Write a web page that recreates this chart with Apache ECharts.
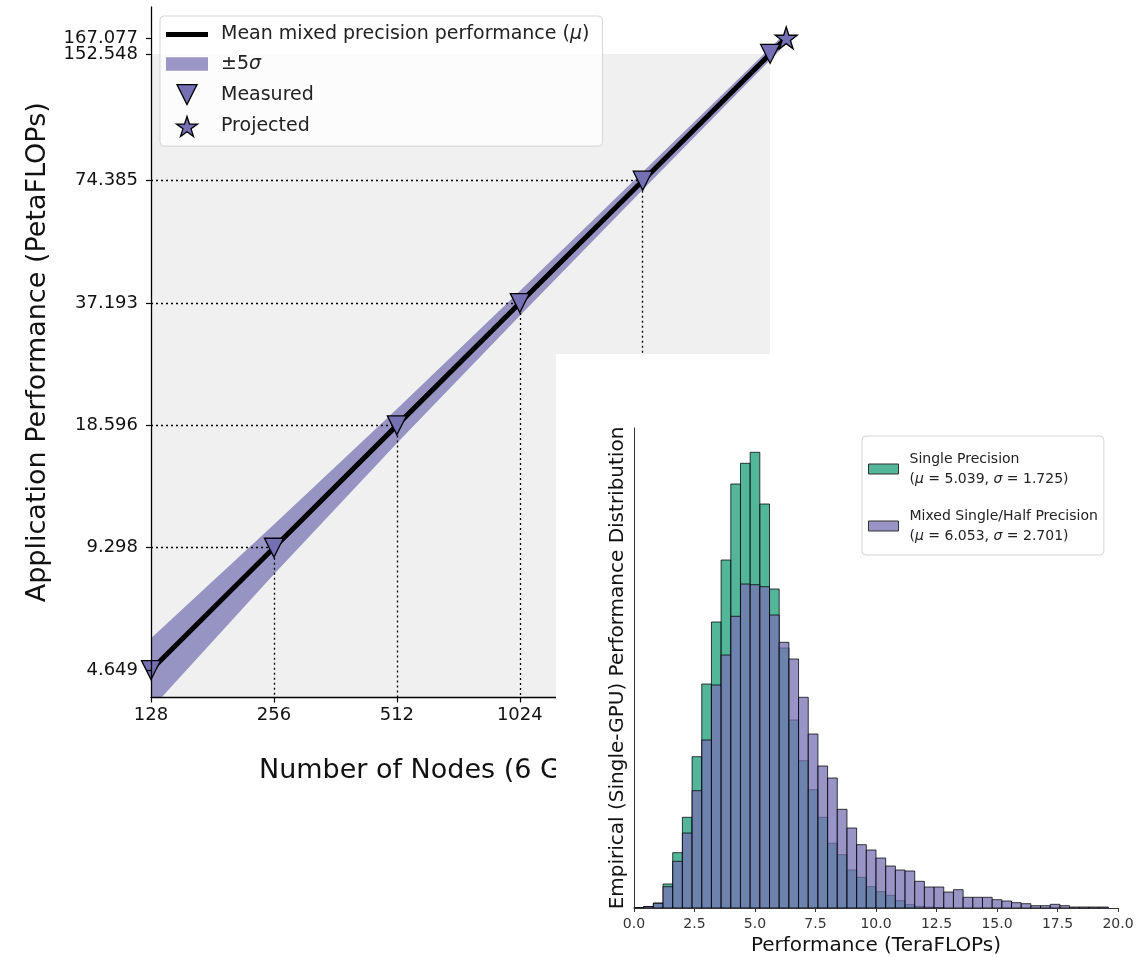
<!DOCTYPE html>
<html>
<head>
<meta charset="utf-8">
<script src="https://cdn.jsdelivr.net/npm/echarts@6/dist/echarts.min.js"></script>
<style>
  html, body { margin: 0; padding: 0; background: #fff; }
  #chart { width: 1143px; height: 957px; }
</style>
</head>
<body>
<div id="chart"></div>
<script>
// ---- main plot: application performance vs node count (log2 / log2) ----
const nodeCounts = [128, 256, 512, 1024, 2048, 4200, 4600];
const meanPerf = [4.649, 9.298, 18.596, 37.193, 74.385, 152.548, 167.077];
const bandUpper = [5.57, 10.6, 20.4, 39.8, 78.1, 157.8, 172.6];
const bandLower = [3.73, 8.0, 16.8, 34.6, 70.7, 147.3, 161.6];
const measuredNodes = [128, 256, 512, 1024, 2048, 4200];
const measuredPerf = [4.649, 9.298, 18.596, 37.193, 74.385, 152.548];
const projectedNodes = [4600];
const projectedPerf = [167.077];
const guideNodes = [256, 512, 1024, 2048];
const guidePerf = [9.298, 18.596, 37.193, 74.385];
const xTicks = [128, 256, 512, 1024, 2048, 4096];
const yTicks = [4.649, 9.298, 18.596, 37.193, 74.385, 167.077];
const yTicksExtra = [152.548]; // sits too close to 167.077, so it gets its own axis
const xRange = [128, 5200];
const yRange = [3.98, 199];
const shadedCorner = [4200, 152.548];

// ---- inset: per-GPU performance histogram (bin width 0.4 TF) ----
const binEdges = [0, 0.4, 0.8, 1.2, 1.6, 2, 2.4, 2.8, 3.2, 3.6, 4, 4.4, 4.8, 5.2, 5.6, 6, 6.4, 6.8, 7.2, 7.6,
  8, 8.4, 8.8, 9.2, 9.6, 10, 10.4, 10.8, 11.2, 11.6, 12, 12.4, 12.8, 13.2, 13.6, 14, 14.4, 14.8, 15.2, 15.6,
  16, 16.4, 16.8, 17.2, 17.6, 18, 18.4, 18.8, 19.2, 19.6, 20];
const singleHeights = [0.3, 1.5, 5, 24, 55.3, 90.7, 151.3, 224, 286, 348, 424, 444.7, 455.7, 404, 319, 260,
  188, 147.3, 118.3, 90.7, 64.7, 53.3, 38, 30.7, 21.3, 16.3, 12.7, 7.3, 3.3, 1.7, 1, 0.5, 0, 0, 0, 0, 0, 0, 0, 0,
  0, 0, 0, 0, 0, 0, 0, 0, 0, 0];
const mixedHeights = [0.3, 1.5, 4.7, 21.3, 46.7, 75, 117.3, 168, 223, 253, 291.7, 324, 323.3, 321.3, 293, 265.7,
  249, 210.7, 174, 142, 130, 98.7, 80, 63.3, 58, 50, 42, 38, 37, 26.7, 21, 21, 16, 18.3, 10.7, 10.7, 10.7, 8.3, 7,
  5.3, 4.3, 2.3, 2.3, 3.7, 2.3, 1, 1, 1, 1, 0];
const singleMu = '5.039', singleSigma = '1.725';
const mixedMu = '6.053', mixedSigma = '2.701';

const lg = Math.log2;
const FONT = 'DejaVu Sans';
const PURPLE = '#7570b3';
const BAND_FILL = 'rgba(117,112,179,0.72)';
const TRI_DOWN = 'path://M0,0L20,0L10,20Z';
const STAR = 'path://M10,0L12.25,6.91L19.51,6.91L13.63,11.18L15.88,18.09L10,13.82L4.12,18.09L6.37,11.18L0.49,6.91L7.75,6.91Z';
const MEAN_NAME = 'Mean mixed precision performance (μ)';

const chart = echarts.init(document.getElementById('chart'), null, { renderer: 'canvas' });

function histItem(fill) {
  return function (params, api) {
    const h = api.value(2);
    if (!h) return null;
    const tl = api.coord([api.value(0), h]);
    const br = api.coord([api.value(1), 0]);
    return {
      type: 'rect',
      shape: { x: tl[0], y: tl[1], width: br[0] - tl[0], height: br[1] - tl[1] },
      style: { fill: fill, stroke: 'rgba(0,0,0,0.75)', lineWidth: 1 }
    };
  };
}

// whole +-5 sigma band as one polygon: upper edge forwards, lower edge back
function bandItem(params, api) {
  const upper = nodeCounts.map((n, i) => api.coord([lg(n), lg(bandUpper[i])]));
  const lower = nodeCounts.map((n, i) => api.coord([lg(n), lg(bandLower[i])])).reverse();
  return { type: 'polygon', shape: { points: upper.concat(lower) }, style: { fill: BAND_FILL } };
}

function perfAxis(ticks, showLine, extra) {
  return Object.assign({
    type: 'value', gridIndex: 0, position: 'left', offset: 0, z: 10,
    min: lg(yRange[0]), max: lg(yRange[1]),
    axisLine: { show: showLine, onZero: false, lineStyle: { color: '#000', width: 1.3 } },
    axisTick: { show: true, length: 5, lineStyle: { color: '#000', width: 1.2 }, customValues: ticks.map(lg) },
    axisLabel: {
      fontSize: 18, color: '#111', margin: 13,
      customValues: ticks.map(lg),
      formatter: v => Math.pow(2, v).toFixed(3)
    },
    splitLine: { show: false }
  }, extra);
}

const option = {
  animation: false,
  textStyle: { fontFamily: FONT },
  graphic: {
    elements: [{
      // white panel of the inset, drawn over the main plot
      type: 'rect', silent: true, z: 50,
      shape: { x: 556, y: 354, width: 587, height: 603 },
      style: { fill: '#fff' }
    }]
  },
  grid: [
    { left: 151, top: 7, width: 657, height: 690.5, outerBoundsMode: 'none', containLabel: false },
    { left: 634, top: 428, width: 484, height: 480, outerBoundsMode: 'none', containLabel: false }
  ],
  legend: [
    {
      orient: 'vertical', left: 160, top: 16,
      itemWidth: 42, itemHeight: 20, itemGap: 10.5,
      padding: [9, 13, 9, 6],
      backgroundColor: 'rgba(255,255,255,0.8)',
      borderColor: '#d4d4d4', borderWidth: 1, borderRadius: 4,
      selectedMode: false,
      formatter: function (name) {
        if (name === MEAN_NAME) return 'Mean mixed precision performance ({i|μ})';
        if (name === '±5σ') return '±5{i|σ}';
        return name;
      },
      textStyle: {
        fontFamily: FONT, fontSize: 19, color: '#222', padding: [0, 0, 0, 8],
        rich: { i: { fontFamily: FONT, fontSize: 19, fontStyle: 'italic', color: '#222' } }
      },
      data: [
        { name: MEAN_NAME, icon: 'path://M0,0H42V5H0Z', itemStyle: { color: '#000', borderWidth: 0 } },
        { name: '±5σ', icon: 'path://M0,0H38V12H0Z', itemStyle: { color: BAND_FILL, borderWidth: 0 } },
        { name: 'Measured', icon: TRI_DOWN, itemStyle: { color: PURPLE, borderColor: '#000', borderWidth: 1.3 } },
        { name: 'Projected', icon: STAR, itemStyle: { color: PURPLE, borderColor: '#000', borderWidth: 1.3 } }
      ]
    },
    {
      orient: 'vertical', left: 862, top: 436, z: 70,
      itemWidth: 30, itemHeight: 10, itemGap: 17,
      padding: [13, 6, 9, 6],
      backgroundColor: '#fff',
      borderColor: '#d4d4d4', borderWidth: 1, borderRadius: 4,
      selectedMode: false,
      formatter: function (name) {
        if (name === 'Single Precision') {
          return 'Single Precision\n({i|μ} = ' + singleMu + ', {i|σ} = ' + singleSigma + ')';
        }
        return 'Mixed Single/Half Precision\n({i|μ} = ' + mixedMu + ', {i|σ} = ' + mixedSigma + ')';
      },
      textStyle: {
        fontFamily: FONT, fontSize: 14, lineHeight: 20, color: '#222', padding: [0, 0, 0, 6],
        rich: { i: { fontFamily: FONT, fontSize: 14, lineHeight: 20, fontStyle: 'italic', color: '#222' } }
      },
      data: [
        { name: 'Single Precision', icon: 'rect', itemStyle: { color: '#54b699', borderColor: '#333', borderWidth: 1 } },
        { name: 'Mixed Single/Half Precision', icon: 'rect', itemStyle: { color: '#9894c6', borderColor: '#333', borderWidth: 1 } }
      ]
    }
  ],
  xAxis: [
    {
      type: 'value', gridIndex: 0, z: 10,
      min: lg(xRange[0]), max: lg(xRange[1]),
      name: 'Number of Nodes (6 GPUs per Node)',
      nameLocation: 'middle', nameGap: 60,
      nameTextStyle: { fontSize: 27, color: '#111', padding: [0, 0, 0, 54] },
      axisLine: { show: true, onZero: false, lineStyle: { color: '#000', width: 1.3 } },
      axisTick: { show: true, length: 5, lineStyle: { color: '#000', width: 1.2 }, customValues: xTicks.map(lg) },
      axisLabel: {
        fontSize: 18, color: '#111', margin: 9,
        customValues: xTicks.map(lg),
        formatter: v => String(Math.round(Math.pow(2, v)))
      },
      splitLine: { show: false }
    },
    {
      type: 'value', gridIndex: 1, z: 60,
      min: 0, max: 20, interval: 2.5,
      name: 'Performance (TeraFLOPs)',
      nameLocation: 'middle', nameGap: 27,
      nameTextStyle: { fontSize: 20, color: '#111' },
      axisLine: { show: true, onZero: false, lineStyle: { color: '#333', width: 1 } },
      axisTick: { show: true, length: 4, lineStyle: { color: '#333' } },
      axisLabel: { fontSize: 14, color: '#333', margin: 9, formatter: v => v.toFixed(1) },
      splitLine: { show: false }
    }
  ],
  yAxis: [
    perfAxis(yTicks, true, {
      name: 'Application Performance (PetaFLOPs)',
      nameLocation: 'middle', nameGap: 100,
      nameTextStyle: { fontSize: 27, color: '#111' }
    }),
    {
      type: 'value', gridIndex: 1, z: 60,
      min: 0, max: 480,
      name: 'Empirical (Single-GPU) Performance Distribution',
      nameLocation: 'middle', nameGap: 6,
      nameTextStyle: { fontSize: 20, color: '#111' },
      axisLine: { show: true, onZero: false, lineStyle: { color: '#333', width: 1 } },
      axisTick: { show: false },
      axisLabel: { show: false },
      splitLine: { show: false }
    },
    perfAxis(yTicksExtra, false, {})
  ],
  series: [
    {
      // grey shaded region up to the last measured run
      name: 'shade', type: 'line', xAxisIndex: 0, yAxisIndex: 0, z: 1,
      symbol: 'none', silent: true, data: [],
      markArea: {
        silent: true,
        itemStyle: { color: '#f0f0f0' },
        data: [[
          { coord: [lg(xRange[0]), lg(yRange[0])] },
          { coord: [lg(shadedCorner[0]), lg(shadedCorner[1])] }
        ]]
      }
    },
    {
      name: 'guides', type: 'line', xAxisIndex: 0, yAxisIndex: 0, z: 2,
      symbol: 'none', silent: true, data: [],
      markLine: {
        silent: true, symbol: 'none', label: { show: false },
        lineStyle: { color: '#000', type: [2, 3], width: 1.3 },
        data: guideNodes.flatMap((n, i) => [
          [{ coord: [lg(xRange[0]), lg(guidePerf[i])] }, { coord: [lg(n), lg(guidePerf[i])] }],
          [{ coord: [lg(n), lg(guidePerf[i])] }, { coord: [lg(n), lg(yRange[0])] }]
        ])
      }
    },
    {
      name: '±5σ', type: 'custom', xAxisIndex: 0, yAxisIndex: 0, z: 3,
      clip: true, silent: true,
      itemStyle: { color: BAND_FILL },
      renderItem: bandItem,
      data: [[lg(nodeCounts[0]), lg(meanPerf[0])]]
    },
    {
      name: MEAN_NAME, type: 'line', xAxisIndex: 0, yAxisIndex: 0, z: 4,
      symbol: 'none',
      itemStyle: { color: '#000' },
      lineStyle: { color: '#000', width: 5 },
      data: nodeCounts.map((n, i) => [lg(n), lg(meanPerf[i])])
    },
    {
      name: 'Measured', type: 'scatter', xAxisIndex: 0, yAxisIndex: 0, z: 5,
      symbol: TRI_DOWN, symbolSize: 19,
      itemStyle: { color: PURPLE, borderColor: '#000', borderWidth: 1.3, opacity: 1 },
      data: measuredNodes.map((n, i) => [lg(n), lg(measuredPerf[i])])
    },
    {
      name: 'Projected', type: 'scatter', xAxisIndex: 0, yAxisIndex: 0, z: 5,
      symbol: STAR, symbolSize: 22,
      itemStyle: { color: PURPLE, borderColor: '#000', borderWidth: 1.3, opacity: 1 },
      data: projectedNodes.map((n, i) => [lg(n), lg(projectedPerf[i])])
    },
    {
      name: 'Single Precision', type: 'custom', xAxisIndex: 1, yAxisIndex: 1, z: 55,
      renderItem: histItem('rgba(27,158,119,0.75)'),
      itemStyle: { color: '#54b699' },
      encode: { x: [0, 1], y: 2 },
      data: singleHeights.map((h, i) => [binEdges[i], binEdges[i + 1], h])
    },
    {
      name: 'Mixed Single/Half Precision', type: 'custom', xAxisIndex: 1, yAxisIndex: 1, z: 56,
      renderItem: histItem('rgba(117,112,179,0.75)'),
      itemStyle: { color: '#9894c6' },
      encode: { x: [0, 1], y: 2 },
      data: mixedHeights.map((h, i) => [binEdges[i], binEdges[i + 1], h])
    }
  ]
};

chart.setOption(option);
</script>
</body>
</html>
